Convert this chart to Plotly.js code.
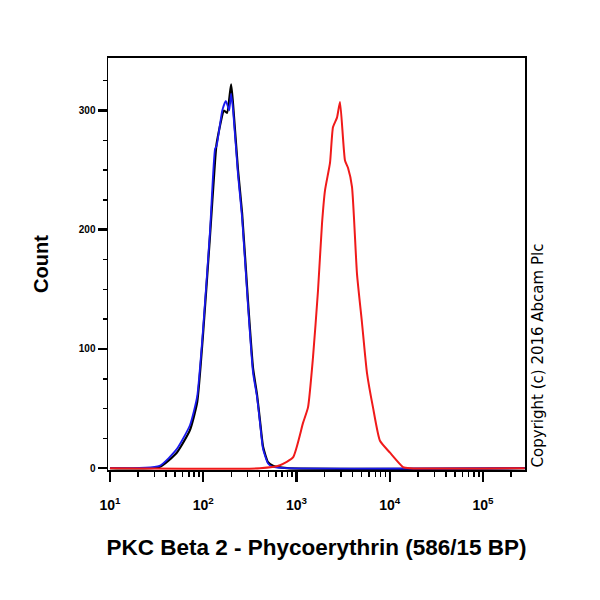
<!DOCTYPE html>
<html><head><meta charset="utf-8">
<script src="https://cdn.plot.ly/plotly-3.0.1.min.js"></script>
<style>html,body{margin:0;padding:0;background:#fff}</style>
</head><body>
<div id="chart" style="width:600px;height:600px"></div>
<script>
// Isotype control (black)
const blackX = [10, 34, 52, 72, 86, 99, 118, 134, 139, 167, 180, 199, 209, 236, 261, 302, 342, 377, 406, 438, 495, 560, 791, 280000];
const blackY = [0, 1, 13, 32, 55, 110, 194, 258, 272, 300, 298, 322, 305, 250, 214, 140, 84, 62, 40, 18, 5, 2, 0, 0];
// Unlabelled control (blue)
const blueX = [10, 34, 52, 72, 86, 99, 118, 134, 139, 160, 175, 190, 199, 209, 236, 261, 302, 342, 377, 406, 438, 495, 560, 791, 280000];
const blueY = [0, 2, 16, 36, 60, 114, 198, 268, 270, 300, 308, 300, 314, 300, 246, 210, 136, 80, 60, 38, 16, 4, 1, 0, 0];
// PKC Beta 2 stained (red)
const redX = [10, 406, 665, 917, 1175, 1329, 1503, 1701, 1877, 2022, 2287, 2461, 2718, 2927, 3311, 3565, 3936, 4453, 5036, 5696, 6610, 7852, 10060, 13870, 16480, 280000];
const redY = [0, 0, 2.5, 9, 38, 51, 93, 149, 205, 233, 256, 286, 294, 307, 258, 252, 236, 163, 122, 80, 51, 23, 13, 1, 0, 0];
// Axis tick labels
const xTickVals = [10, 100, 1000, 10000, 100000];
const xTickText = ['10<sup>1</sup>', '10<sup>2</sup>', '10<sup>3</sup>', '10<sup>4</sup>', '10<sup>5</sup>'];
const yTickVals = [0, 100, 200, 300];

const traces = [
  {x: blackX, y: blackY, type: 'scatter', mode: 'lines', line: {color: '#000000', width: 2.2, shape: 'spline', smoothing: 0.5}, name: 'Isotype'},
  {x: blueX, y: blueY, type: 'scatter', mode: 'lines', line: {color: '#1a1aee', width: 1.8, shape: 'spline', smoothing: 0.5}, name: 'Unlabelled'},
  {x: redX, y: redY, type: 'scatter', mode: 'lines', line: {color: '#f01a1a', width: 2, shape: 'spline', smoothing: 0.5}, name: 'PKC Beta 2'}
];

const fam = 'Liberation Sans, Arial, sans-serif';
const layout = {
  width: 600, height: 600,
  margin: {l: 108, r: 75, t: 58, b: 130},
  paper_bgcolor: '#fff', plot_bgcolor: '#fff',
  showlegend: false,
  font: {family: fam, color: '#000'},
  xaxis: {
    type: 'log', range: [0.979, 5.45],
    showline: true, linecolor: '#000', linewidth: 2, mirror: true,
    showgrid: false, zeroline: false,
    ticks: 'outside', ticklen: 10, tickwidth: 2.5, tickcolor: '#000',
    tickmode: 'array', tickvals: xTickVals, ticktext: xTickText,
    ticklabelstandoff: 11,
    tickfont: {family: fam, size: 14, color: '#000', weight: 'bold'},
    minor: {ticks: 'outside', ticklen: 5, tickwidth: 1.5, tickcolor: '#000', dtick: 'D1', showgrid: false},
    title: {text: '<b>PKC Beta 2 - Phycoerythrin (586/15 BP)</b>', font: {family: fam, size: 22.5, color: '#000'}, standoff: 27}
  },
  yaxis: {
    range: [-1.5, 344],
    showline: true, linecolor: '#000', linewidth: 1.5, mirror: true,
    showgrid: false, zeroline: false,
    ticks: 'outside', ticklen: 9, tickwidth: 2.5, tickcolor: '#000',
    tickmode: 'array', tickvals: yTickVals,
    tickfont: {family: fam, size: 10, color: '#000', weight: 'bold'},
    minor: {ticks: 'outside', ticklen: 4, tickwidth: 1.5, tickcolor: '#000', dtick: 25, showgrid: false},
    title: {text: '<b>Count</b>', font: {family: fam, size: 20, color: '#000'}, standoff: 25}
  },
  annotations: [{
    text: 'Copyright (c) 2016 Abcam Plc', xref: 'paper', yref: 'paper',
    x: 1.03, y: 0.277, textangle: -90, showarrow: false,
    xanchor: 'center', yanchor: 'middle',
    font: {family: 'DejaVu Sans, sans-serif', size: 15, color: '#000'}
  }]
};
Plotly.newPlot('chart', traces, layout, {displayModeBar: false, staticPlot: true});
</script>
</body></html>
